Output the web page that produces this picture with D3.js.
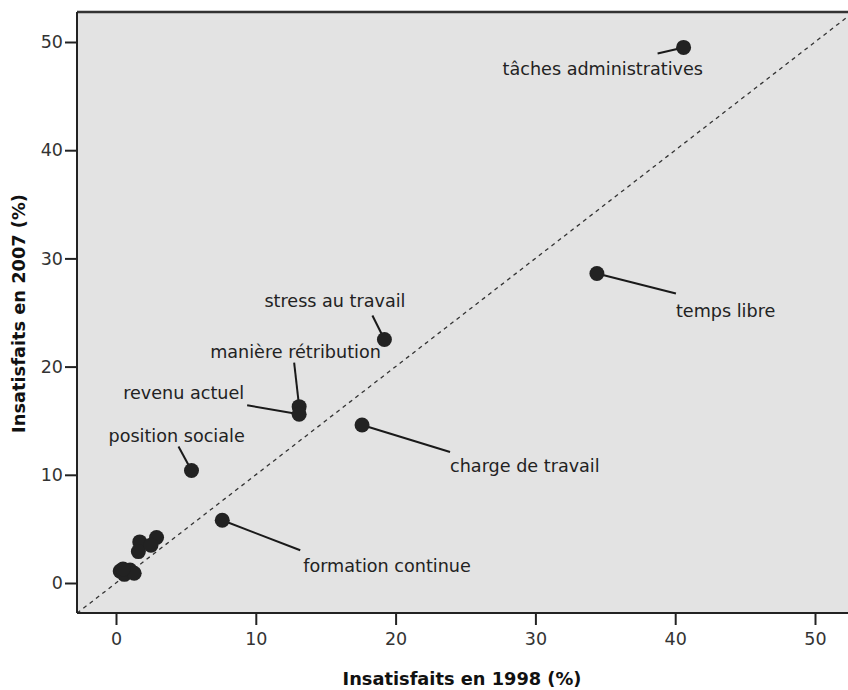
<!DOCTYPE html>
<html><head><meta charset="utf-8">
<script src="https://cdn.jsdelivr.net/npm/d3@7"></script>
<style>body{margin:0;background:#fff}svg{display:block}</style>
</head><body>
<svg id="c" width="848" height="690"></svg>
<script>
// ---- data ----
const labels = ["tâches administratives","temps libre","stress au travail","manière rétribution","revenu actuel","charge de travail","position sociale","formation continue","","","","","","","","",""];
const x1998 = [40.6, 34.4, 19.2, 13.1, 13.1, 17.6, 5.4, 7.6, 1.7, 2.9, 1.6, 2.5, 0.3, 0.6, 1.0, 1.3, 0.5];
const y2007 = [49.5, 28.6, 22.5, 16.3, 15.6, 14.6, 10.4, 5.8, 3.8, 4.2, 2.9, 3.5, 1.1, 0.8, 1.2, 0.9, 1.3];
const xTicks = [0, 10, 20, 30, 40, 50];
const yTicks = [0, 10, 20, 30, 40, 50];
const xTitle = "Insatisfaits en 1998 (%)";
const yTitle = "Insatisfaits en 2007 (%)";

// ---- layout (pixel offsets from each point: text left/centre, leader end) ----
const labelLayout = [
  {tx:-181, ty:21, lx:-26, ly:6},
  {tx:79, ty:37, lx:79, ly:20},
  {tx:-120, ty:-39, lx:-12, ly:-24},
  {tx:-89, ty:-55, lx:-5, ly:-44},
  {tx:-176, ty:-21, lx:-52, ly:-9},
  {tx:88, ty:41, lx:88, ly:27},
  {tx:-83, ty:-35, lx:-13, ly:-24},
  {tx:81, ty:46, lx:78, ly:30}
];

const svg = d3.select("#c");
const x = d3.scaleLinear().domain([0, 50]).range([116, 815]);
const y = d3.scaleLinear().domain([0, 50]).range([583, 42]);
const pL = 77, pR = 848, pT = 12, pB = 613;

svg.append("rect").attr("x", pL).attr("y", pT).attr("width", pR - pL).attr("height", pB - pT).attr("fill", "#e3e3e3");

svg.append("clipPath").attr("id", "clip").append("rect").attr("x", pL).attr("y", pT).attr("width", pR - pL).attr("height", pB - pT);

// diagonal
const dmin = x.invert(pL), dmax = x.invert(pR);
svg.append("line").attr("clip-path", "url(#clip)")
  .attr("x1", x(dmin)).attr("y1", y(dmin)).attr("x2", x(dmax)).attr("y2", y(dmax))
  .attr("stroke", "#333").attr("stroke-width", 1.3).attr("stroke-dasharray", "4,4");

// axes
const xAxis = svg.append("g").attr("transform", `translate(0,${pB})`)
  .call(d3.axisBottom(x).tickValues(xTicks).tickSize(12).tickPadding(8).tickFormat(d3.format("d")));
const yAxis = svg.append("g").attr("transform", `translate(${pL},0)`)
  .call(d3.axisLeft(y).tickValues(yTicks).tickSize(12).tickPadding(2).tickFormat(d3.format("d")));
[xAxis, yAxis].forEach(g => {
  g.select(".domain").remove();
  g.selectAll(".tick line").attr("stroke", "#222").attr("stroke-width", 2);
  g.selectAll(".tick text").attr("fill", "#333").style("font-family", "DejaVu Sans").style("font-size", "17.5px");
});

// frame lines
svg.append("line").attr("x1", pL).attr("x2", pR).attr("y1", pT).attr("y2", pT).attr("stroke", "#333").attr("stroke-width", 2.5);
svg.append("line").attr("x1", pL).attr("x2", pR).attr("y1", pB).attr("y2", pB).attr("stroke", "#222").attr("stroke-width", 2);
svg.append("line").attr("x1", pL).attr("x2", pL).attr("y1", pT).attr("y2", pB).attr("stroke", "#222").attr("stroke-width", 2);

// leader lines & labels
const ann = svg.append("g");
labelLayout.forEach((l, i) => {
  const px = x(x1998[i]), py = y(y2007[i]);
  ann.append("line").attr("x1", px).attr("y1", py).attr("x2", px + l.lx).attr("y2", py + l.ly)
    .attr("stroke", "#1a1a1a").attr("stroke-width", 2);
  ann.append("text").attr("x", px + l.tx).attr("y", py + l.ty).attr("dy", "0.35em")
    .attr("fill", "#222").style("font-family", "DejaVu Sans").style("font-size", "17.6px").text(labels[i]);
});

// points
svg.append("g").selectAll("circle").data(x1998).join("circle")
  .attr("cx", (d) => x(d)).attr("cy", (d, i) => y(y2007[i])).attr("r", 7.5)
  .attr("fill", "#222");

// titles
svg.append("text").attr("x", 462).attr("y", 685)
  .attr("text-anchor", "middle").attr("fill", "#111").style("font-family", "DejaVu Sans").style("font-weight", "bold").style("font-size", "17.8px").text(xTitle);
svg.append("text").attr("transform", `translate(25,${(pT + pB) / 2 + 1}) rotate(-90)`)
  .attr("text-anchor", "middle").attr("fill", "#111").style("font-family", "DejaVu Sans").style("font-weight", "bold").style("font-size", "17.8px").text(yTitle);
</script>
</body></html>
